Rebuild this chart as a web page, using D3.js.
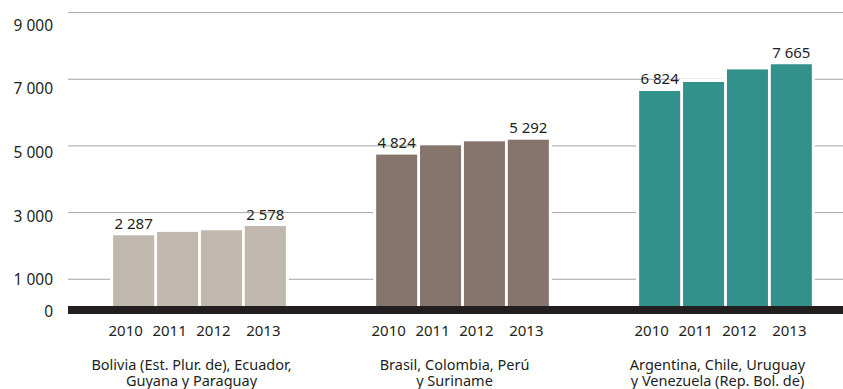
<!DOCTYPE html>
<html>
<head>
<meta charset="utf-8">
<script src="https://cdn.jsdelivr.net/npm/d3@7"></script>
<style>
  html, body { margin: 0; padding: 0; background: #fff; }
  svg { display: block; }
  text { font-family: "Noto Sans", sans-serif; fill: #231f20; }
</style>
</head>
<body>
<svg id="chart" width="843" height="389"></svg>
<script>
// ---- Data ----
const groupNames = [
  "Bolivia (Est. Plur. de), Ecuador, Guyana y Paraguay",
  "Brasil, Colombia, Perú y Suriname",
  "Argentina, Chile, Uruguay y Venezuela (Rep. Bol. de)"
];
const groupLines = [
  ["Bolivia (Est. Plur. de), Ecuador,", "Guyana y Paraguay"],
  ["Brasil, Colombia, Perú", "y Suriname"],
  ["Argentina, Chile, Uruguay", "y Venezuela (Rep. Bol. de)"]
];
const years = ["2010", "2011", "2012", "2013"];
const valuesGroup1 = [2287, 2394, 2444, 2578];
const valuesGroup2 = [4824, 5116, 5242, 5292];
const valuesGroup3 = [6824, 7107, 7503, 7665];
const seriesValues = [valuesGroup1, valuesGroup2, valuesGroup3];
const groupColors = ["#c0b8ae", "#86756c", "#32928b"];
const yTickValues = [0, 1000, 3000, 5000, 7000, 9000];
const labeledYears = ["2010", "2013"];

// ---- Drawing ----
const svg = d3.select("#chart");
const locale = d3.formatLocale({ decimal: ",", thousands: " ", grouping: [3], currency: ["", ""] });
const fmt = locale.format(",");

const plotLeft = 68, plotRight = 843;

const x0 = d3.scaleBand().domain(groupNames).range([68, 857]).padding(0);
const x1 = d3.scaleBand().domain(years).range([45.15, 217.85]).paddingInner(0.065).paddingOuter(0);

// bars & labels scale
const y = d3.scaleLinear().domain([0, 9000]).range([308, 21.8]);
// gridline scale (as drawn in the reference)
const yGrid = d3.scaleLinear().domain([0, 9000]).range([312.6, 12.6]);

// gridlines
svg.append("g").selectAll("line")
  .data(yTickValues.filter(d => d > 0))
  .join("line")
  .attr("x1", plotLeft).attr("x2", plotRight)
  .attr("y1", d => yGrid(d)).attr("y2", d => yGrid(d))
  .attr("stroke", "#a6a6a6").attr("stroke-width", 1);

// y tick labels
svg.append("g").selectAll("text")
  .data(yTickValues)
  .join("text")
  .attr("x", 53)
  .attr("y", d => y(d) + 9)
  .attr("text-anchor", "end")
  .style("font-size", "15.5px")
  .text(d => fmt(d));

// groups
const groupsG = svg.append("g").selectAll("g")
  .data(groupNames.map((name, i) => ({ name, i, values: seriesValues[i] })))
  .join("g")
  .attr("transform", d => `translate(${x0(d.name)},0)`);

const barData = g => years.map((yr, j) => ({ yr, v: g.values[j], color: groupColors[g.i] }));

// white halos (break gridlines near bars)
groupsG.selectAll("rect.halo")
  .data(barData)
  .join("rect")
  .attr("class", "halo")
  .attr("x", d => x1(d.yr) - 3)
  .attr("width", x1.bandwidth() + 6)
  .attr("y", d => y(d.v) - 3)
  .attr("height", d => y(0) - y(d.v) + 3)
  .attr("fill", "#fff");

// bars
groupsG.selectAll("rect.bar")
  .data(barData)
  .join("rect")
  .attr("class", "bar")
  .attr("x", d => x1(d.yr))
  .attr("width", x1.bandwidth())
  .attr("y", d => y(d.v))
  .attr("height", d => y(0) - y(d.v))
  .attr("fill", d => d.color);

// value labels
groupsG.selectAll("text.val")
  .data(g => barData(g).filter(d => labeledYears.includes(d.yr)))
  .join("text")
  .attr("class", "val")
  .attr("x", d => x1(d.yr) + x1.bandwidth() / 2)
  .attr("y", d => y(d.v) - 6.5)
  .attr("text-anchor", "middle")
  .style("font-size", "15px")
  .text(d => fmt(d.v));

// axis band at zero
svg.append("rect")
  .attr("x", plotLeft).attr("width", plotRight - plotLeft)
  .attr("y", y(0) - 2).attr("height", 8)
  .attr("fill", "#231f20");

// year labels
groupsG.selectAll("text.yr")
  .data(barData)
  .join("text")
  .attr("class", "yr")
  .attr("x", (d, j) => x1(d.yr) + x1.bandwidth() / 2 + (j < 3 ? -8 : -2))
  .attr("y", 336)
  .attr("text-anchor", "middle")
  .style("font-size", "15px")
  .text(d => d.yr);

// category labels
groupsG.selectAll("text.cat")
  .data(g => groupLines[g.i].map((line, k) => ({ line, k })))
  .join("text")
  .attr("class", "cat")
  .attr("x", x0.bandwidth() / 2 - 8)
  .attr("y", d => 370 + d.k * 16)
  .attr("text-anchor", "middle")
  .style("font-size", "14.5px")
  .text(d => d.line);
</script>
</body>
</html>
